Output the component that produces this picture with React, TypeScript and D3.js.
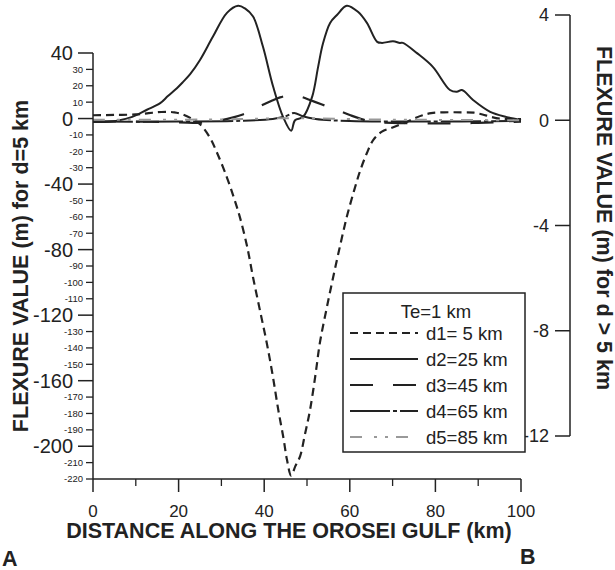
import React from "react";
import * as d3 from "d3";

// ---- data (distance km, value m) ----
const d1Km = [0, 5, 10, 13, 16, 19, 21, 23, 25, 27.3, 29, 31.3, 33, 34.3, 36, 37.4, 39, 40.6, 42, 43.3, 44.5, 45.3, 46.3, 47.3, 48.4, 49.5, 50.7, 52, 53, 54.5, 56.1, 57.7, 59.3, 61, 62.4, 64, 65.5, 67.5, 70, 73, 75, 77, 79, 82, 86, 89, 91, 93, 95, 100];
const d1Val = [2, 2.2, 2.5, 3.3, 4, 3.8, 2.5, 0, -3.5, -11.6, -21, -36, -49, -60, -78, -97, -117, -137, -157, -178, -195, -208, -218, -212, -206, -193, -178, -156, -137, -117, -97, -78, -60, -44, -32, -21, -13, -8, -5.5, -2.4, 0, 2, 3.3, 3.8, 3.8, 3.6, 2.5, 1, 0, -0.3];

const d2Km = [0, 4, 8.6, 12.6, 15.7, 17.5, 19.6, 21, 22.7, 25, 28, 31.3, 33.9, 35.5, 37.4, 39.7, 42.1, 44.4, 46.3, 47.2, 49.1, 51.2, 52.6, 53.7, 55.4, 57, 59.3, 61.9, 64, 66.4, 67.5, 70.1, 71.7, 72.4, 75.7, 79.4, 83.4, 85, 86.2, 88.8, 92.8, 96.7, 100];
const d2Val = [-0.07, -0.05, 0.1, 0.4, 0.65, 0.92, 1.22, 1.45, 1.75, 2.29, 3.17, 4.08, 4.35, 4.25, 3.94, 2.8, 1.27, 0.13, -0.4, 0.0, 0.13, 0.89, 2.03, 2.9, 3.7, 4.0, 4.35, 4.12, 3.7, 2.98, 2.94, 3.0, 2.94, 2.94, 2.55, 2.03, 1.15, 1.08, 1.15, 0.77, 0.32, 0.12, 0];

const d3Km = [0, 10, 20, 25, 28, 30, 33, 35, 37, 39, 41.5, 43.7, 46, 48.4, 51, 53.5, 55.5, 57.2, 60, 62.4, 65, 70, 80, 90, 100];
const d3Val = [-0.05, -0.05, -0.08, -0.1, -0.05, 0, 0.12, 0.22, 0.35, 0.53, 0.72, 0.87, 0.95, 0.9, 0.75, 0.6, 0.48, 0.38, 0.2, 0.06, -0.05, -0.1, -0.12, -0.1, -0.05];

const d4Km = [0, 20, 35, 42, 45, 47, 49, 52, 60, 75, 100];
const d4Val = [-0.05, -0.05, -0.02, 0.05, 0.15, 0.28, 0.15, 0.05, -0.03, -0.05, -0.03];

const d5Km = [0, 30, 47, 65, 100];
const d5Val = [0.02, 0.03, 0.08, 0.03, 0.0];

const xTicks = [0, 20, 40, 60, 80, 100];
const xMinorTicks = [10, 30, 50, 70, 90];
const leftMajorTicks = [40, 0, -40, -80, -120, -160, -200];
const leftMinorTicks = [30, 20, 10, -10, -20, -30, -50, -60, -70, -90, -100, -110, -130, -140, -150, -170, -180, -190, -210, -220];
const rightTicks = [4, 0, -4, -8, -12];

const legendTitle = "Te=1 km";
const legendLabels = ["d1= 5 km", "d2=25 km", "d3=45 km", "d4=65 km", "d5=85 km"];

const FONT = "'Liberation Sans', Arial, Helvetica, sans-serif";
const INK = "#222";

export default function App() {
  const x = d3.scaleLinear().domain([0, 100]).range([93, 521]);
  const yL = d3.scaleLinear().domain([-220, 40]).range([479, 53]);
  const yR = d3.scaleLinear().domain([-12, 4]).range([436, 15]);

  const mk = (ys: d3.ScaleLinear<number, number>) =>
    d3
      .line<[number, number]>()
      .x((d) => x(d[0]))
      .y((d) => ys(d[1]))
      .curve(d3.curveCatmullRom.alpha(0.5));

  const zip = (a: number[], b: number[]) => a.map((v, i) => [v, b[i]] as [number, number]);

  const series = [
    { km: d1Km, val: d1Val, scale: yL, dash: "8,5", color: INK, w: 2.2 },
    { km: d2Km, val: d2Val, scale: yR, dash: "none", color: INK, w: 2 },
    { km: d3Km, val: d3Val, scale: yR, dash: "23,20", color: INK, w: 2.2 },
    { km: d4Km, val: d4Val, scale: yR, dash: "40,3,4,3", color: INK, w: 2 },
    { km: d5Km, val: d5Val, scale: yR, dash: "12,12,3,8,3,8", color: "#999", w: 2 },
  ];

  const legX = 343, legY = 293, legW = 182, legH = 159;
  const entryY = [333, 359, 385, 411, 437];

  return (
    <svg width={615} height={570} style={{ position: "absolute", left: 0, top: 0, background: "#fff" }} fontFamily={FONT}>
      {/* curves */}
      {series.map((s, i) => (
        <path key={i} d={mk(s.scale)(zip(s.km, s.val)) || ""} fill="none" stroke={s.color} strokeWidth={s.w} strokeDasharray={s.dash} />
      ))}

      {/* left axis */}
      <line x1={93} x2={93} y1={yL(40)} y2={yL(-220)} stroke={INK} strokeWidth={1.5} />
      {leftMajorTicks.map((t) => (
        <g key={"lm" + t}>
          <line x1={78} x2={93} y1={yL(t)} y2={yL(t)} stroke={INK} strokeWidth={1.5} />
          <text x={73} y={yL(t)} dy="0.36em" textAnchor="end" fontSize={20} fill={INK}>{t}</text>
        </g>
      ))}
      {leftMinorTicks.map((t) => (
        <g key={"ln" + t}>
          <line x1={86} x2={93} y1={yL(t)} y2={yL(t)} stroke={INK} strokeWidth={1.3} />
          <text x={83} y={yL(t)} dy="0.36em" textAnchor="end" fontSize={9.5} fill={INK}>{t}</text>
        </g>
      ))}

      {/* x axis */}
      <line x1={x(0)} x2={x(100)} y1={yL(-220)} y2={yL(-220)} stroke={INK} strokeWidth={1.5} />
      {xTicks.map((t) => (
        <g key={"xm" + t}>
          <line x1={x(t)} x2={x(t)} y1={yL(-220)} y2={yL(-220) + 13} stroke={INK} strokeWidth={1.5} />
          <text x={x(t)} y={517} textAnchor="middle" fontSize={17} fill={INK}>{t}</text>
        </g>
      ))}
      {xMinorTicks.map((t) => (
        <line key={"xn" + t} x1={x(t)} x2={x(t)} y1={yL(-220)} y2={yL(-220) + 7} stroke={INK} strokeWidth={1.3} />
      ))}

      {/* right axis */}
      <line x1={570} x2={570} y1={yR(4)} y2={yR(-12)} stroke={INK} strokeWidth={1.5} />
      {rightTicks.map((t) => (
        <g key={"r" + t}>
          <line x1={555} x2={570} y1={yR(t)} y2={yR(t)} stroke={INK} strokeWidth={1.5} />
          <text x={549} y={yR(t)} dy="0.36em" textAnchor="end" fontSize={18} fill={INK}>{t}</text>
        </g>
      ))}

      {/* titles */}
      <text transform="translate(28,266) rotate(-90)" textAnchor="middle" fontSize={21.5} fontWeight="bold" fill={INK}>
        FLEXURE VALUE (m) for d=5 km
      </text>
      <text transform="translate(597,218) rotate(90)" textAnchor="middle" fontSize={21.5} fontWeight="bold" fill={INK}>
        FLEXURE VALUE (m) for d &gt; 5 km
      </text>
      <text x={289} y={538} textAnchor="middle" fontSize={21.5} fontWeight="bold" fill={INK}>
        DISTANCE ALONG THE OROSEI GULF (km)
      </text>
      <text x={2} y={566} fontSize={21.5} fontWeight="bold" fill={INK}>A</text>
      <text x={520} y={564} fontSize={21.5} fontWeight="bold" fill={INK}>B</text>

      {/* legend */}
      <rect x={legX} y={legY} width={legW} height={legH} fill="#fff" stroke={INK} strokeWidth={1.5} />
      <text x={436} y={318} textAnchor="middle" fontSize={18.5} fill={INK}>{legendTitle}</text>
      {legendLabels.map((lab, i) => (
        <g key={lab}>
          <line x1={350} x2={418} y1={entryY[i]} y2={entryY[i]} stroke={series[i].color} strokeWidth={series[i].w} strokeDasharray={series[i].dash} />
          <text x={426} y={entryY[i]} dy="0.36em" fontSize={18.5} fill={INK}>{lab}</text>
        </g>
      ))}
    </svg>
  );
}
